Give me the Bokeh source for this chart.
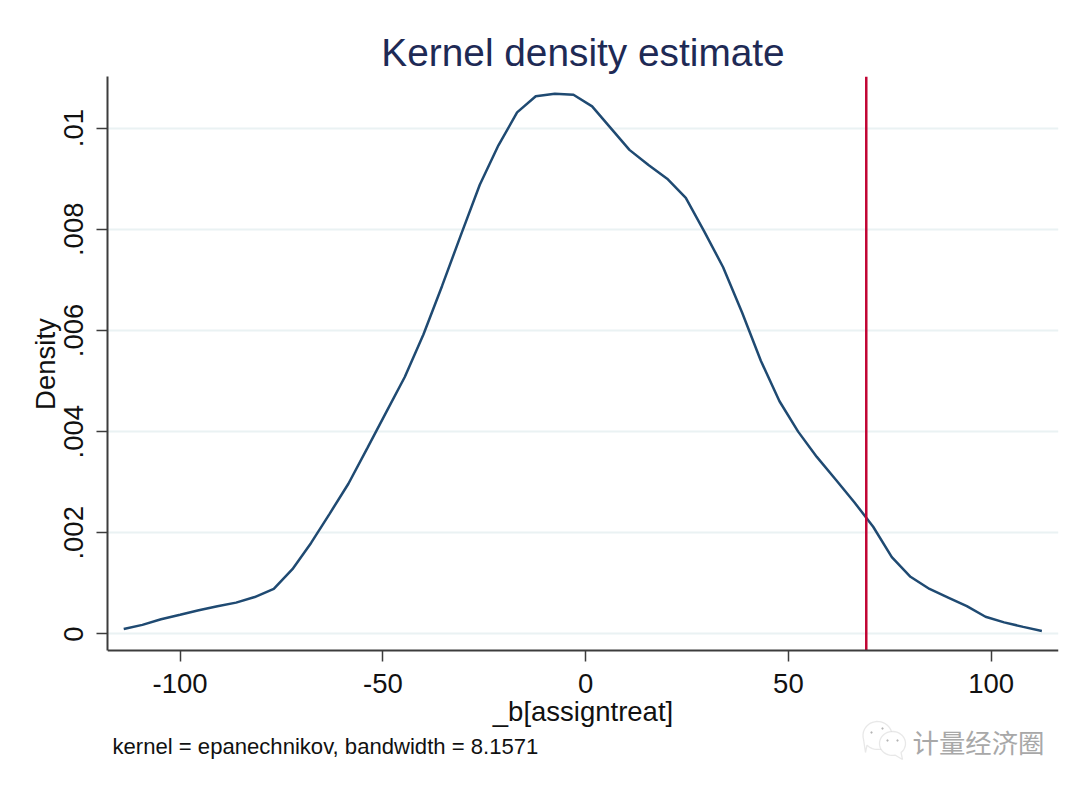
import numpy as np
from bokeh.plotting import figure
from bokeh.models import Range1d, FixedTicker, Label, PolyAnnotation
from bokeh.embed import file_html
from bokeh.resources import INLINE

grid_x = [-113.9,-109.3,-104.7,-100.0,-95.4,-90.8,-86.2,-81.6,-76.9,-72.3,-67.7,-63.1,-58.5,-53.8,-49.2,-44.6,-40.0,-35.4,-30.7,-26.1,-21.5,-16.9,-12.3,-7.6,-3.0,1.6,6.2,10.8,15.5,20.1,24.7,29.3,33.9,38.6,43.2,47.8,52.4,57.0,61.7,66.3,70.9,75.5,80.1,84.8,89.4,94.0,98.6,103.2,107.9,112.5]
density = [.00010,.00018,.00029,.00038,.00047,.00055,.00062,.00073,.00089,.00128,.00180,.00238,.00297,.00368,.00438,.00508,.00592,.00688,.00790,.00888,.00966,.01031,.01063,.01068,.01066,.01043,.01000,.00957,.00927,.00900,.00862,.00795,.00725,.00635,.00540,.00460,.00400,.00350,.00305,.00260,.00212,.00152,.00113,.00089,.00072,.00055,.00034,.00023,.00014,.00006]
reference_x = 69.2
x_ticks = [-100, -50, 0, 50, 100]
x_tick_labels = ["-100", "-50", "0", "50", "100"]
y_ticks = [0, .002, .004, .006, .008, .01]
y_tick_labels = ["0", ".002", ".004", ".006", ".008", ".01"]
title_text = "Kernel density estimate"
x_title = "_b[assigntreat]"
y_title = "Density"
note_text = "kernel = epanechnikov, bandwidth = 8.1571"
watermark = "计量经济圈"

FONT = "Liberation Sans"
AXIS = "#3c3c3c"
MARK = "#b4b4b4"
X_LIM = (-117.9, 116.6)
Y_AXIS_AT = -0.000336
Y_TOP = 0.01102
# The frame runs to the canvas bottom so the note and watermark can sit under the x axis.
Y_FRAME_BOTTOM = -0.002916
# Leading no-break spaces re-centre the rotated label on the axis span, not the taller frame.
Y_TITLE_PAD = "\u00a0" * 17

p = figure(width=1072, height=781, output_backend="svg", toolbar_location=None,
           x_range=Range1d(*X_LIM), y_range=Range1d(Y_FRAME_BOTTOM, Y_TOP),
           min_border_left=107, min_border_right=14, min_border_top=76, min_border_bottom=0,
           background_fill_color="white", border_fill_color="white")
p.outline_line_color = None

p.title.text = title_text
p.title.align = "center"
p.title.text_font = FONT
p.title.text_font_style = "normal"
p.title.text_font_size = "38.8px"
p.title.text_color = "#1e2a55"
p.title.standoff = 5

p.xgrid.visible = False
p.ygrid.ticker = FixedTicker(ticks=y_ticks)
p.ygrid.grid_line_color = "#eaf2f3"
p.ygrid.grid_line_width = 2

for ax, ticks, labels in ((p.xaxis[0], x_ticks, x_tick_labels), (p.yaxis[0], y_ticks, y_tick_labels)):
    ax.ticker = FixedTicker(ticks=ticks)
    ax.major_label_overrides = dict(zip(ticks, labels))
    ax.minor_tick_line_color = None
    ax.axis_line_color = AXIS
    ax.axis_line_width = 2
    ax.major_tick_line_color = AXIS
    ax.major_tick_line_width = 1.5
    ax.major_tick_in = 0
    ax.major_tick_out = 11
    ax.major_label_text_font = FONT
    ax.major_label_text_font_size = "27.5px"
    ax.major_label_text_color = "#111111"
    ax.axis_label_text_font = FONT
    ax.axis_label_text_font_style = "normal"
    ax.axis_label_text_font_size = "27.5px"
    ax.axis_label_text_color = "#111111"

p.xaxis[0].fixed_location = Y_AXIS_AT
p.xaxis[0].axis_label = x_title
p.xaxis[0].axis_label_standoff = 0
p.xaxis[0].major_label_standoff = 12
p.yaxis[0].bounds = (Y_AXIS_AT, Y_TOP)
p.yaxis[0].axis_label = Y_TITLE_PAD + y_title
p.yaxis[0].axis_label_standoff = 1
p.yaxis[0].major_label_standoff = 13
p.yaxis[0].major_label_orientation = "vertical"

p.line(grid_x, density, line_color="#1f4a72", line_width=2.5)
p.line([reference_x, reference_x], [Y_AXIS_AT, Y_TOP], line_color="#c10534", line_width=2.5)

p.add_layout(Label(x=5, y=35, x_units="screen", y_units="screen", text=note_text,
                   text_font=FONT, text_font_size="22.1px", text_color="#111111",
                   text_baseline="middle"))
p.add_layout(Label(x=805, y=40, x_units="screen", y_units="screen", text=watermark,
                   text_font="Noto Sans CJK SC", text_font_size="26.4px", text_color="#a8a8a8",
                   text_baseline="middle"))

# WeChat-style bubbles of the watermark, in screen units of the frame
def bubble(cx, cy, rx, ry, tail_start, tail, fill="white", line=MARK, width=1.3):
    t = np.linspace(tail_start, tail_start + 2 * np.pi - 0.5, 40)
    xs = list(cx + rx * np.cos(t)) + [cx + tail[0]]
    ys = list(cy + ry * np.sin(t)) + [cy + tail[1]]
    p.add_layout(PolyAnnotation(xs=xs, ys=ys, xs_units="screen", ys_units="screen",
                                fill_color=fill, fill_alpha=1, line_color=line, line_width=width))

bubble(770, 46, 14.5, 14, 3.9, (-12, -17))
bubble(785, 38, 13, 12, -0.85, (10, -16))
for ex, ey in ((764, 49), (775, 53), (780, 41), (790, 41)):
    bubble(ex, ey, 1, 1, 0, (1, 0), fill=MARK, width=0.5)

open("out.html", "w").write(file_html(p, INLINE))
